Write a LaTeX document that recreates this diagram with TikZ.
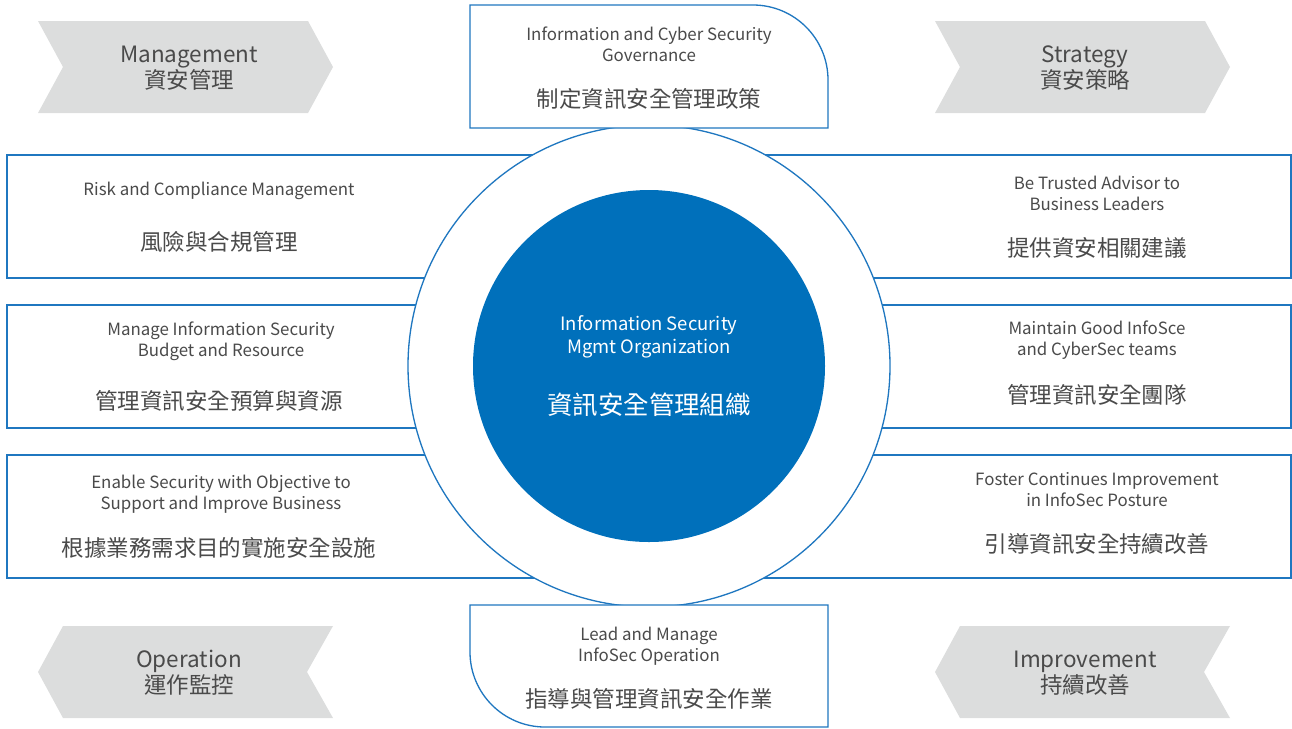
\documentclass[tikz,border=0pt]{standalone}
\usepackage{fontspec}
\setmainfont{Noto Sans CJK TC}
\definecolor{isblue}{HTML}{0070BB}
\definecolor{isline}{HTML}{1F77C0}
\definecolor{isgray}{HTML}{DCDDDD}
\definecolor{istext}{HTML}{4A4A4A}

\tikzset{
  sidebox/.style={draw=isline, fill=white, line width=0.75pt},
  chevron/.style={fill=isgray},
  entext/.style={text=istext, align=center, inner sep=0pt, font=\fontsize{9.6}{11.9}\selectfont},
  cjktext/.style={text=istext, inner sep=0pt, font=\fontsize{12.8}{14}\selectfont},
  chevtext/.style={text=istext, align=center, inner sep=0pt, font=\fontsize{12.8}{14.8}\selectfont},
}

\begin{document}
\begin{tikzpicture}[x=0.02cm,y=-0.02cm]
\useasboundingbox (0,0) rectangle (1292,728);

% side boxes, partly under the ring
\foreach \ty in {155,305,455} {
  \draw [sidebox] (7,\ty) rectangle (649,\ty+123);
  \draw [sidebox] (649,\ty) rectangle (1291,\ty+123);
}

% ring and core
\draw [draw=isline, fill=white, line width=0.75pt] (649,366) circle [radius=241];
\fill [isblue] (649,366) circle [radius=176];

% top and bottom boxes
\draw [sidebox] (470,128) -- (470,5) -- (753,5) arc [start angle=-90, end angle=0, radius=75] -- (828,128) -- cycle;
\draw [sidebox] (470,605) -- (828,605) -- (828,727) -- (545,727) arc [start angle=90, end angle=180, radius=75] -- cycle;

% chevrons
\foreach \dx in {0,897} {
  \fill [chevron] (38+\dx,21) -- (308+\dx,21) -- (333+\dx,67) -- (308+\dx,113) -- (38+\dx,113) -- (63+\dx,67) -- cycle;
  \fill [chevron] (63+\dx,626) -- (333+\dx,626) -- (307+\dx,672) -- (333+\dx,718) -- (63+\dx,718) -- (38+\dx,672) -- cycle;
}

\path (189,68) node (mgmt) [chevtext] {Management\\資安管理};
\path (1085,68) node (strat) [chevtext] {Strategy\\資安策略};
\path (189,673) node (oper) [chevtext] {Operation\\運作監控};
\path (1085,673) node (impr) [chevtext] {Improvement\\持續改善};

% top box
\path (649,44) node (govEn) [entext] {Information and Cyber Security\\Governance};
\path (649,99) node (govZh) [cjktext] {制定資訊安全管理政策};

% left boxes
\path (219,191) node (riskEn) [entext] {Risk and Compliance Management};
\path (219,242) node (riskZh) [cjktext] {風險與合規管理};
\path (221,341) node (budEn) [entext] {Manage Information Security\\Budget and Resource};
\path (219,401) node (budZh) [cjktext] {管理資訊安全預算與資源};
\path (221,494) node (bizEn) [entext] {Enable Security with Objective to\\Support and Improve Business};
\path (219,548) node (bizZh) [cjktext] {根據業務需求目的實施安全設施};

% right boxes
\path (1097,193) node (advEn) [entext] {Be Trusted Advisor to\\Business Leaders};
\path (1097,248) node (advZh) [cjktext] {提供資安相關建議};
\path (1097,340) node (teamEn) [entext] {Maintain Good InfoSce\\and CyberSec teams};
\path (1097,395) node (teamZh) [cjktext] {管理資訊安全團隊};
\path (1097,490) node (postEn) [entext] {Foster Continues Improvement\\in InfoSec Posture};
\path (1097,544) node (postZh) [cjktext] {引導資訊安全持續改善};

% bottom box
\path (649,646) node (opsEn) [entext] {Lead and Manage\\InfoSec Operation};
\path (649,699) node (opsZh) [cjktext] {指導與管理資訊安全作業};

% core text
\path (649,337) node (coreEn) [entext, text=white, font=\fontsize{10.5}{13}\selectfont] {Information Security\\Mgmt Organization};
\path (649,405) node (coreZh) [cjktext, text=white, font=\fontsize{14.5}{15}\selectfont] {資訊安全管理組織};

\end{tikzpicture}
\end{document}
